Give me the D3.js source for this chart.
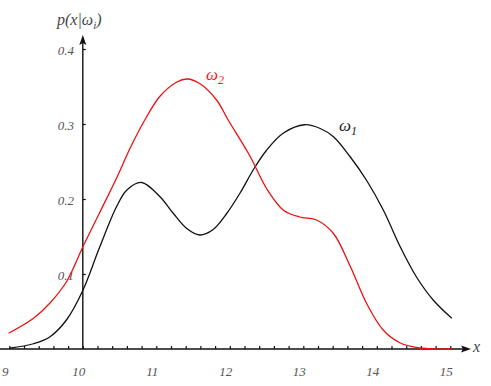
<!DOCTYPE html>
<html>
<head>
<meta charset="utf-8">
<script src="https://cdn.jsdelivr.net/npm/d3@7"></script>
<style>
  body { margin: 0; background: #fff; }
  text { font-family: "Liberation Serif", "DejaVu Serif", serif; font-style: italic; }
</style>
</head>
<body>
<div id="chart"></div>
<script>
// values
const w1X = [9.0, 9.33, 9.55, 9.78, 10.0, 10.23, 10.46, 10.6, 10.8, 11.05, 11.23, 11.41, 11.59, 11.77, 11.96, 12.14, 12.32, 12.5, 12.73, 13.02, 13.23, 13.41, 13.64, 13.86, 14.09, 14.32, 14.54, 14.77, 15.02];
const w1Y = [0.001, 0.007, 0.016, 0.039, 0.078, 0.136, 0.19, 0.212, 0.222, 0.203, 0.181, 0.161, 0.152, 0.159, 0.181, 0.208, 0.239, 0.265, 0.288, 0.299, 0.294, 0.283, 0.256, 0.225, 0.185, 0.136, 0.096, 0.065, 0.041];
const w2X = [8.99, 9.33, 9.55, 9.78, 10.0, 10.23, 10.46, 10.64, 10.83, 11.05, 11.28, 11.42, 11.59, 11.82, 11.98, 12.27, 12.5, 12.73, 12.95, 13.18, 13.41, 13.64, 13.86, 14.09, 14.32, 14.54, 14.77, 15.02];
const w2Y = [0.021, 0.041, 0.061, 0.09, 0.136, 0.182, 0.228, 0.267, 0.303, 0.337, 0.356, 0.36, 0.354, 0.332, 0.305, 0.258, 0.214, 0.185, 0.176, 0.172, 0.154, 0.11, 0.061, 0.025, 0.008, 0.002, 0.0, 0.0];
const xLabels = [9, 10, 11, 12, 13, 14, 15];
const yLabels = [0.1, 0.2, 0.3, 0.4];

const W = 491, H = 386;
const svg = d3.select('#chart').append('svg')
  .attr('width', W).attr('height', H);

const x = d3.scaleLinear().domain([9, 15]).range([9.3, 450.3]);
const y = d3.scaleLinear().domain([0, 0.4]).range([349, 49]);
const x0 = x(10), y0 = y(0);

// x axis line + arrow
svg.append('line')
  .attr('x1', 0).attr('x2', 464).attr('y1', y0).attr('y2', y0)
  .attr('stroke', '#111').attr('stroke-width', 1.4);
svg.append('path')
  .attr('d', `M471,${y0} L461,${y0 - 3.5} L463,${y0} L461,${y0 + 3.5} Z`)
  .attr('fill', '#111');

// x ticks (minor every 0.2, drawn upward)
svg.append('g')
  .attr('transform', `translate(0,${y0})`)
  .call(d3.axisTop(x).tickValues(d3.range(0, 31).map(i => 9 + i * 0.2))
    .tickSize(3).tickFormat(''))
  .call(g => g.select('.domain').remove())
  .call(g => g.selectAll('line').attr('stroke', '#111').attr('stroke-width', 1.2));

svg.append('g').selectAll('text')
  .data(xLabels).enter().append('text')
  .attr('x', d => x(d) - 4)
  .attr('y', 376)
  .attr('text-anchor', 'middle')
  .attr('font-size', 13)
  .attr('fill', '#555')
  .text(d => d);

// y axis line + arrow
svg.append('line')
  .attr('x1', x0).attr('x2', x0).attr('y1', y0).attr('y2', 42)
  .attr('stroke', '#111').attr('stroke-width', 1.4);
svg.append('path')
  .attr('d', `M${x0},35 L${x0 - 3.5},45 L${x0},43 L${x0 + 3.5},45 Z`)
  .attr('fill', '#111');

svg.append('g')
  .attr('transform', `translate(${x0},0)`)
  .call(d3.axisRight(y).tickValues(yLabels).tickSize(3).tickFormat(''))
  .call(g => g.select('.domain').remove())
  .call(g => g.selectAll('line').attr('stroke', '#111').attr('stroke-width', 1.2));

svg.append('g').selectAll('text')
  .data(yLabels).enter().append('text')
  .attr('x', 74)
  .attr('y', d => y(d) + 6)
  .attr('text-anchor', 'end')
  .attr('font-size', 13)
  .attr('fill', '#555')
  .text(d => d.toFixed(1));

// axis titles
const t = svg.append('text').attr('x', 57).attr('y', 25)
  .attr('font-size', 16).attr('fill', '#444');
t.append('tspan').text('p(x|ω');
t.append('tspan').attr('font-size', 11).attr('dy', 4).text('i');
t.append('tspan').attr('dy', -4).text(')');

svg.append('text')
  .attr('x', 473).attr('y', 352)
  .attr('font-size', 16).attr('fill', '#444')
  .text('x');

// curves
const line = d3.line()
  .x(d => x(d[0]))
  .y(d => y(d[1]))
  .curve(d3.curveCatmullRom.alpha(0.5));

svg.append('path')
  .datum(w1X.map((v, i) => [v, w1Y[i]]))
  .attr('d', line)
  .attr('fill', 'none')
  .attr('stroke', '#111')
  .attr('stroke-width', 1.3);

svg.append('path')
  .datum(w2X.map((v, i) => [v, w2Y[i]]))
  .attr('d', line)
  .attr('fill', 'none')
  .attr('stroke', '#f01010')
  .attr('stroke-width', 1.3);

// series labels
const l2 = svg.append('text').attr('x', 206).attr('y', 80)
  .attr('font-size', 17).attr('fill', '#f02020');
l2.append('tspan').text('ω');
l2.append('tspan').attr('font-size', 12).attr('dy', 4).text('2');

const l1 = svg.append('text').attr('x', 339).attr('y', 131)
  .attr('font-size', 17).attr('fill', '#222');
l1.append('tspan').text('ω');
l1.append('tspan').attr('font-size', 12).attr('dy', 4).text('1');
</script>
</body>
</html>
